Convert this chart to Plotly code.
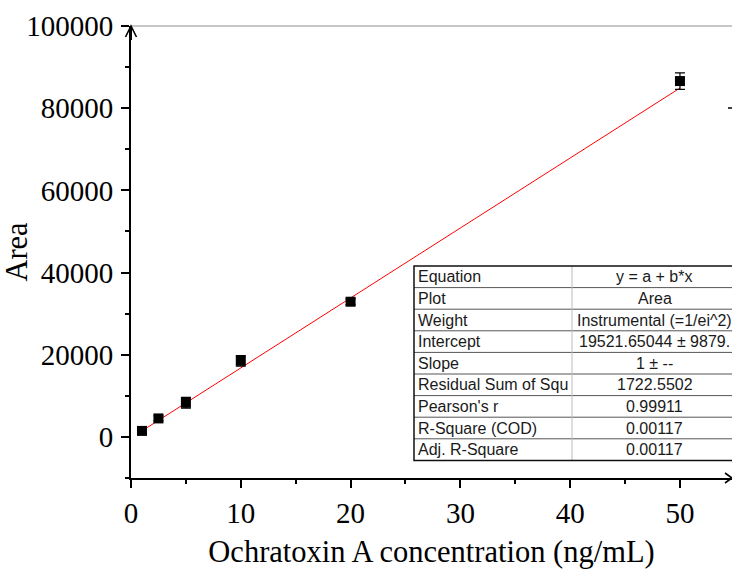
import plotly.graph_objects as go

# ---- data ----
conc = [1, 2.5, 5, 10, 20, 50]
area = [1460, 4500, 8300, 18500, 32900, 86600]
area_err = [500, 600, 1300, 1300, 700, 2000]

fit_x = [1, 50]
fit_y = [1460, 84900]

x_ticks = [0, 10, 20, 30, 40, 50]
y_ticks = [0, 20000, 40000, 60000, 80000, 100000]

table_labels = ["Equation", "Plot", "Weight", "Intercept", "Slope",
                "Residual Sum of Squ", "Pearson's r", "R-Square (COD)", "Adj. R-Square"]
table_values = ["y = a + b*x", "Area", "Instrumental (=1/ei^2)", "19521.65044 \u00b1 9879.",
                "1 \u00b1 --", "1722.5502", "0.99911", "0.00117", "0.00117"]

W, H = 732, 569
L, R, T, B = 131, 0, 26, 91
PW, PH = W - L - R, H - T - B


def px(x):
    return (x - L) / PW


def py(y):
    return (H - B - y) / PH


fig = go.Figure()

fig.add_trace(go.Scatter(
    x=fit_x, y=fit_y, mode="lines",
    line=dict(color="#ff0000", width=1), showlegend=False, hoverinfo="skip"))

fig.add_trace(go.Scatter(
    x=conc, y=area, mode="markers",
    marker=dict(symbol="square", size=10, color="black"),
    error_y=dict(type="data", array=area_err, visible=True, color="black",
                 thickness=1.2, width=5),
    showlegend=False))

tick_font = dict(family="Liberation Serif, Times New Roman, serif", size=29, color="black")
title_font = dict(family="Liberation Serif, Times New Roman, serif", size=30.5, color="black")

fig.update_xaxes(
    range=[0, 54.74], tickvals=x_ticks, ticktext=[str(v) for v in x_ticks],
    showline=True, linecolor="black", linewidth=2, mirror=False,
    ticks="outside", ticklen=8, tickwidth=2, tickcolor="black",
    minor=dict(dtick=5, tick0=0, ticks="outside", ticklen=4, tickwidth=2, tickcolor="black"),
    showgrid=False, zeroline=False, tickfont=tick_font,
    title=dict(text="Ochratoxin A concentration (ng/mL)", font=title_font, standoff=16))

fig.update_yaxes(
    range=[-10000, 100000], tickvals=y_ticks, ticktext=[str(v) for v in y_ticks],
    showline=True, linecolor="black", linewidth=2, mirror=False,
    ticks="outside", ticklen=8, tickwidth=2, tickcolor="black",
    minor=dict(dtick=10000, tick0=0, ticks="outside", ticklen=4, tickwidth=2, tickcolor="black"),
    ticklabelstandoff=2,
    showgrid=False, zeroline=False, tickfont=tick_font,
    title=dict(text="Area", font=title_font, standoff=0))

shapes = []
# top gray frame line
shapes.append(dict(type="line", xref="paper", yref="paper", x0=px(130), x1=px(732),
                   y0=py(26), y1=py(26), line=dict(color="#b4b4b4", width=1.5)))
# small right tick
shapes.append(dict(type="line", xref="paper", yref="paper", x0=px(728), x1=px(732),
                   y0=py(108), y1=py(108), line=dict(color="black", width=1.5)))
# y axis arrow
shapes.append(dict(type="path", xref="paper", yref="paper",
                   path=f"M {px(125.5)} {py(37)} L {px(131)} {py(26)} L {px(136.5)} {py(37)}",
                   line=dict(color="black", width=1.6)))
shapes.append(dict(type="line", xref="paper", yref="paper", x0=px(131), x1=px(131),
                   y0=py(40), y1=py(26), line=dict(color="black", width=2)))
# x axis arrow
shapes.append(dict(type="path", xref="paper", yref="paper",
                   path=f"M {px(725)} {py(473)} L {px(732)} {py(478)} L {px(725)} {py(483)}",
                   line=dict(color="black", width=1.6)))

# table
tx0, tx1, txm = 414, 737, 572
ty0, rowh = 266, 21.6
nrows = len(table_labels)
ty1 = ty0 + rowh * nrows
for i in range(1, nrows):
    yy = ty0 + rowh * i
    shapes.append(dict(type="line", xref="paper", yref="paper", x0=px(tx0), x1=px(tx1),
                       y0=py(yy), y1=py(yy), line=dict(color="#555555", width=1)))
shapes.append(dict(type="line", xref="paper", yref="paper", x0=px(txm), x1=px(txm),
                   y0=py(ty0), y1=py(ty1), line=dict(color="#bbbbbb", width=1)))
shapes.append(dict(type="rect", xref="paper", yref="paper", x0=px(tx0), x1=px(tx1),
                   y0=py(ty0), y1=py(ty1), line=dict(color="#111111", width=1.5)))

annotations = []
tfont = dict(family="Liberation Sans, Arial, sans-serif", size=16, color="#1a1a1a")
for i, (lab, val) in enumerate(zip(table_labels, table_values)):
    yc = ty0 + rowh * (i + 0.5)
    annotations.append(dict(xref="paper", yref="paper", x=px(tx0 + 2), y=py(yc),
                            text=lab, showarrow=False, xanchor="left", yanchor="middle",
                            font=tfont))
    annotations.append(dict(xref="paper", yref="paper", x=px((txm + tx1) / 2), y=py(yc),
                            text=val, showarrow=False, xanchor="center", yanchor="middle",
                            font=tfont))

fig.update_layout(
    width=W, height=H, margin=dict(l=L, r=R, t=T, b=B),
    paper_bgcolor="white", plot_bgcolor="white",
    shapes=shapes, annotations=annotations)

fig.write_html("out.html")
